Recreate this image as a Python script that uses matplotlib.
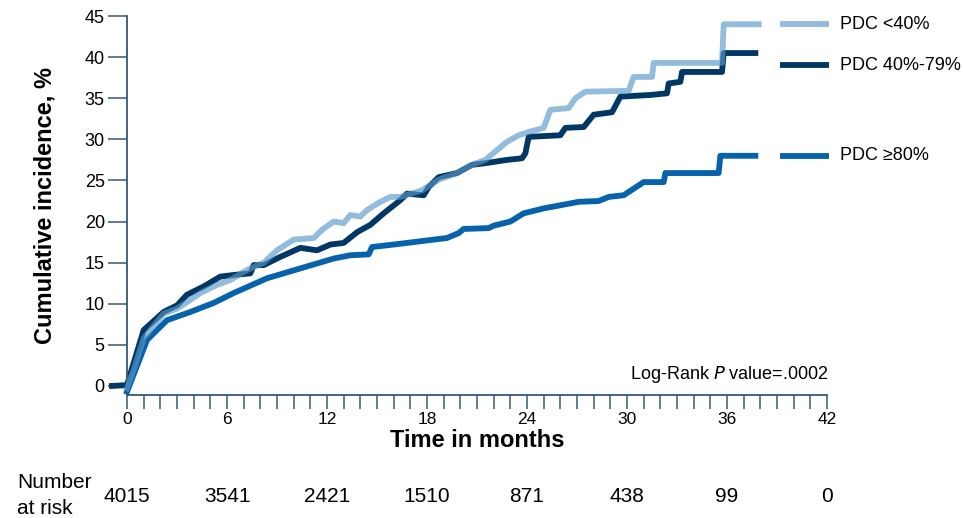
import numpy as np
import matplotlib
matplotlib.use('Agg')
import matplotlib.pyplot as plt

plt.rcParams['font.family'] = ['Liberation Sans', 'DejaVu Sans']

# months / cumulative incidence (%)
low_t = [0, 0.4, 1.0, 2.2, 3.0, 3.6, 4.4, 5.4, 6.2, 7.2, 8.2, 9.0, 10.0, 11.2, 11.7,
         12.4, 13.0, 13.4, 14.0, 14.4, 15.2, 15.8, 16.4, 17.7, 18.7, 19.8, 20.7, 21.5,
         22.2, 22.8, 23.5, 24.1, 25.0, 25.4, 26.5, 26.9, 27.5, 30.1, 30.4, 31.5, 31.6,
         35.7, 35.8, 37.9]
low_y = [-0.3, 2.0, 5.8, 8.8, 9.4, 10.2, 11.3, 12.3, 12.9, 14.1, 15.0, 16.5, 17.8, 18.0, 19.0,
         20.0, 19.8, 20.8, 20.6, 21.4, 22.4, 23.0, 23.0, 23.8, 25.1, 25.9, 26.9, 27.5,
         28.7, 29.7, 30.5, 30.9, 31.4, 33.6, 33.8, 35.0, 35.8, 35.9, 37.6, 37.6, 39.3,
         39.3, 44.0, 44.0]

mid_t = [-0.9, 0, 0.4, 1.0, 2.2, 3.0, 3.6, 4.6, 5.6, 6.4, 7.4, 7.6, 8.2, 9.2, 10.4, 11.4,
         12.2, 13.0, 13.8, 14.6, 15.4, 16.4, 16.8, 17.8, 18.1, 18.7, 19.8, 20.7, 21.5,
         22.8, 23.7, 23.9, 24.1, 26.0, 26.3, 27.4, 28.0, 29.1, 29.6, 31.4, 32.4, 32.5,
         33.2, 33.3, 35.7, 35.8, 37.7]
mid_y = [0, 0.1, 2.8, 6.8, 9.0, 9.8, 11.1, 12.1, 13.3, 13.5, 13.7, 14.7, 14.7, 15.7, 16.8, 16.5,
         17.2, 17.4, 18.7, 19.6, 21.0, 22.6, 23.4, 23.2, 24.2, 25.4, 25.9, 26.9, 27.1,
         27.5, 27.7, 28.3, 30.3, 30.5, 31.4, 31.5, 33.0, 33.3, 35.2, 35.4, 35.6, 36.8,
         37.0, 38.2, 38.2, 40.5, 40.5]

high_t = [0, 1.2, 2.4, 3.8, 5.2, 6.4, 8.4, 10.4, 12.4, 13.4, 14.5, 14.7, 16.4, 19.2, 19.9,
          20.2, 21.7, 22.0, 23.0, 23.8, 25.0, 27.1, 28.3, 28.9, 29.8, 31.0, 32.2, 32.3,
          35.5, 35.6, 37.7]
high_y = [-0.7, 5.6, 8.0, 9.0, 10.1, 11.3, 13.1, 14.3, 15.5, 15.9, 16.0, 16.9, 17.3, 18.0, 18.6,
          19.1, 19.2, 19.5, 20.0, 21.0, 21.6, 22.4, 22.5, 23.0, 23.2, 24.8, 24.8, 25.9,
          25.9, 28.0, 28.0]

labels = ['PDC <40%', 'PDC 40%-79%', 'PDC \u226580%']
# light curve is translucent (alpha 0.65 of #5997c9 looks like #93bbdc on white)
line_colors = ['#5997c9', '#003764', '#0562ab']
line_alpha = [0.65, 1.0, 1.0]
legend_colors = ['#93bbdc', '#003764', '#0562ab']
legend_y = [44.0, 39.0, 28.0]

risk_t = [0, 6, 12, 18, 24, 30, 36, 42]
at_risk = ['4015', '3541', '2421', '1510', '871', '438', '99', '0']

spine_c = '#34587a'
lw = 4.2

fig = plt.figure(figsize=(9.63, 5.18), dpi=100)
ax = fig.add_axes([0.1319, 0.2375, 0.7269, 0.7315])

series = [(low_t, low_y), (mid_t, mid_y), (high_t, high_y)]
zorders = [4, 2, 3]
for (t, y), c, a, z in zip(series, line_colors, line_alpha, zorders):
    ax.plot(t, y, color=c, lw=lw, alpha=a, clip_on=False, zorder=z)

# legend stubs + labels to the right of the curves
for c, lab, ly in zip(legend_colors, labels, legend_y):
    ax.plot([39.2, 42.1], [ly, ly], color=c, lw=lw, clip_on=False, solid_capstyle='butt')
    ax.text(42.8, ly, lab, fontsize=13, va='center', ha='left')

ax.set_xlim(0, 42)
ax.set_ylim(-1.1, 45)
ax.set_xticks(np.arange(0, 43, 6))
ax.set_xticks(np.arange(0, 43, 1), minor=True)
ax.set_yticks(np.arange(0, 46, 5))

for s in ['top', 'right']:
    ax.spines[s].set_visible(False)
for s in ['left', 'bottom']:
    ax.spines[s].set_color(spine_c)
    ax.spines[s].set_linewidth(1.3)

ax.tick_params(axis='x', which='both', direction='out', length=10, width=1.1,
               color=spine_c, labelsize=12.5, pad=2)
ax.tick_params(axis='y', direction='out', length=14, width=1.1, color=spine_c,
               labelsize=13, pad=2)

ax.set_xlabel('Time in months', fontsize=17, fontweight='bold', labelpad=2)
ax.set_ylabel('Cumulative incidence, %', fontsize=17, fontweight='bold', labelpad=20)

ax.text(42.1, 1.4, 'Log-Rank $\\it{P}$ value=.0002', fontsize=13, ha='right', va='center')

# number at risk table
trans = matplotlib.transforms.blended_transform_factory(ax.transData, fig.transFigure)
for t, n in zip(risk_t, at_risk):
    ax.text(t, 1 - 496 / 518, n, fontsize=15, ha='center', va='center', transform=trans)
fig.text(17 / 963, 1 - 483 / 518, 'Number', fontsize=15, ha='left', va='center')
fig.text(17 / 963, 1 - 508 / 518, 'at risk', fontsize=15, ha='left', va='center')

fig.savefig('out.png', dpi=100)
